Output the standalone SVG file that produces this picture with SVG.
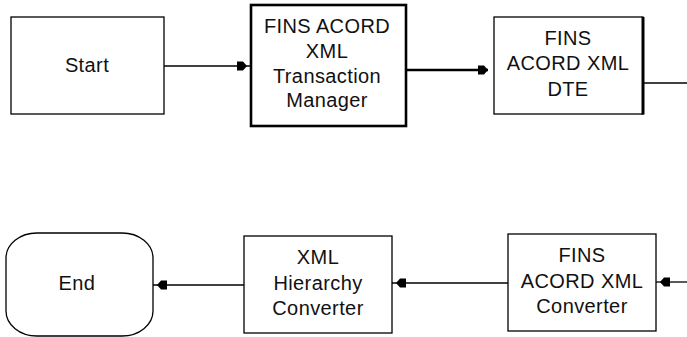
<svg xmlns="http://www.w3.org/2000/svg" width="687" height="337" viewBox="0 0 687 337">
<style>
.box{fill:#fff;stroke:#000;stroke-width:1.3}
.thick{stroke-width:2.6}
.lbl{font-family:"Liberation Sans",Arial,Helvetica,sans-serif;font-size:20px;letter-spacing:0.4px;fill:#111;text-anchor:middle}
.conn{fill:none;stroke:#000;stroke-width:1.3}
</style>
<defs>
<marker id="ahOff" viewBox="-15 -6 16 12" refX="0" refY="0" markerWidth="16" markerHeight="12" markerUnits="userSpaceOnUse" orient="auto">
<path d="M-14,-4.5 L-8,-4.5 L-4,0 L-8,4.5 L-14,4.5 Z" fill="#000"/>
</marker>
<marker id="ah" viewBox="-11 -6 12 12" refX="0" refY="0" markerWidth="12" markerHeight="12" markerUnits="userSpaceOnUse" orient="auto">
<path d="M-10,-4.5 L-4,-4.5 L0,0 L-4,4.5 L-10,4.5 Z" fill="#000"/>
</marker>
</defs>
<rect width="687" height="337" fill="#fff"/>
<g id="connectors">
<path class="conn" d="M164,66 H251" marker-end="url(#ahOff)"/>
<path class="conn" style="stroke-width:2.4" d="M406,70 H488" marker-end="url(#ah)"/>
<path class="conn" d="M643,83 H687"/>
<path class="conn" d="M687,282 H656" marker-end="url(#ahOff)"/>
<path class="conn" d="M508,283 H392" marker-end="url(#ahOff)"/>
<path class="conn" d="M244,285 H153" marker-end="url(#ahOff)"/>
</g>
<g id="start">
<rect class="box" x="11" y="17" width="153" height="97"/>
<text class="lbl" x="87" y="72">Start</text>
</g>
<g id="manager">
<rect class="box thick" x="251" y="5" width="155" height="121"/>
<text class="lbl" x="327" y="33">FINS ACORD</text>
<text class="lbl" x="327" y="58">XML</text>
<text class="lbl" x="327" y="83">Transaction</text>
<text class="lbl" x="327" y="107">Manager</text>
</g>
<g id="dte">
<rect class="box" x="494" y="17" width="149" height="97"/>
<path d="M643,17 V114.5" stroke="#000" stroke-width="3" fill="none"/>
<text class="lbl" x="568" y="45">FINS</text>
<text class="lbl" x="568" y="70">ACORD XML</text>
<text class="lbl" x="568" y="96">DTE</text>
</g>
<g id="converter">
<rect class="box" x="508" y="234" width="148" height="97"/>
<text class="lbl" x="582" y="262">FINS</text>
<text class="lbl" x="582" y="288">ACORD XML</text>
<text class="lbl" x="582" y="313">Converter</text>
</g>
<g id="hierarchy">
<rect class="box" x="244" y="236" width="148" height="97"/>
<text class="lbl" x="318" y="264">XML</text>
<text class="lbl" x="318" y="290">Hierarchy</text>
<text class="lbl" x="318" y="315">Converter</text>
</g>
<g id="end">
<rect class="box" x="6" y="233" width="147" height="103" rx="31" ry="25"/>
<text class="lbl" x="77" y="290">End</text>
</g>
</svg>
